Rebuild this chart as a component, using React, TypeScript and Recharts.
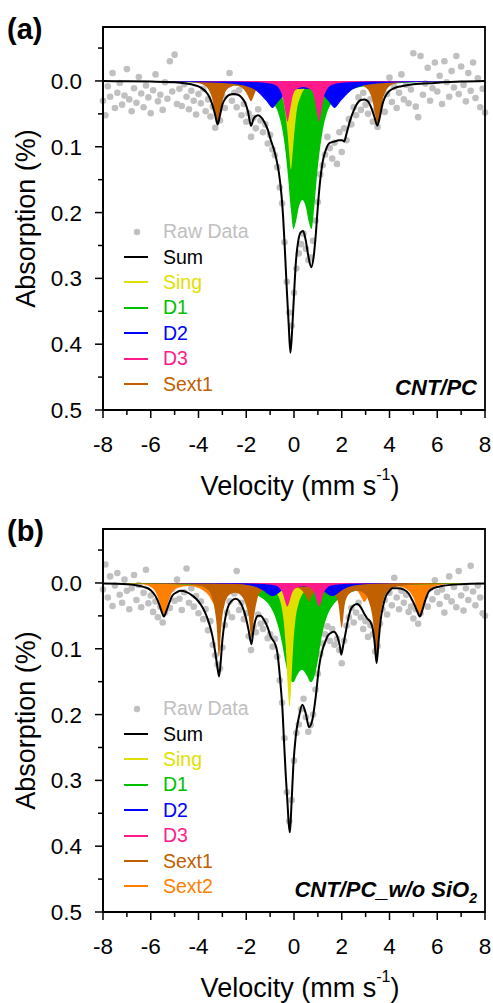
import React from "react";
import {
	ComposedChart,
	XAxis,
	YAxis,
	Area,
	Line,
	Scatter,
	ReferenceArea,
	Legend,
} from "recharts";

type Pair = [number, number];

// shared axes
const velocityTicks = [-8, -7, -6, -5, -4, -3, -2, -1, 0, 1, 2, 3, 4, 5, 6, 7, 8];
const absorptionTicks = [-0.05, 0, 0.05, 0.1, 0.15, 0.2, 0.25, 0.3, 0.35, 0.4, 0.45, 0.5];
const absorptionDomain = [-0.082, 0.5];

// raw spectra are sampled on a fixed channel grid, -8 .. 8 mm/s
const channelVelocity = Array.from({ length: 161 }, (_, i) => Math.round((-8 + i * 0.1) * 10) / 10);

// ---------- (a) CNT/PC ----------
const rawA = [
	0.03, 0.052, 0.008, 0.024, -0.012, 0.041, 0.018, 0.003, 0.036, 0.022,
	-0.018, 0.028, 0.046, 0.011, 0.033, -0.006, 0.019, 0.04, 0.007, 0.025,
	0.049, 0.014, -0.01, 0.031, 0.021, 0.044, 0.002, 0.027, -0.03, 0.016,
	-0.04, 0.035, 0.012, 0.038, 0.005, 0.024, 0.043, 0.015, 0.03, 0.051,
	0.02, 0.034, 0.012, 0.046, 0.028, 0.054, 0.039, 0.071, 0.048, 0.06,
	0.022, 0.041, 0.005, -0.012, 0.03, 0.018, 0.04, 0.014, 0.052, 0.035,
	0.062, 0.049, 0.085, 0.056, 0.072, 0.043, 0.06, 0.078, 0.066, 0.095,
	0.082, 0.104, 0.113, 0.131, 0.162, 0.186, 0.245, 0.305, 0.352, 0.372,
	0.322, 0.285, 0.262, 0.248, 0.232, 0.255, 0.272, 0.268, 0.243, 0.212,
	0.184, 0.142, 0.128, 0.112, 0.085, 0.102, 0.118, 0.094, 0.126, 0.078,
	0.108, 0.072, 0.09, 0.058, 0.066, 0.04, 0.052, 0.025, 0.044, 0.018,
	0.036, 0.05, 0.028, 0.062, 0.045, 0.07, 0.038, 0.012, 0.047, 0.02,
	-0.005, 0.032, 0.009, 0.041, 0.018, -0.01, 0.028, 0.006, 0.034, 0.013,
	-0.042, 0.039, 0.055, -0.038, 0.021, 0.004, -0.02, 0.03, 0.011, -0.028,
	0.016, -0.008, 0.035, -0.03, 0.002, 0.024, -0.015, 0.01, -0.038, 0.02,
	-0.022, 0.006, 0.031, -0.012, 0.015, -0.028, 0.026, -0.004, 0.04, 0.012,
	0.048,
];
const sumA: Pair[] = [
	[-8, 0], [-7, 0.0005], [-6, 0.001], [-5, 0.002], [-4.5, 0.004], [-4.2, 0.006],
	[-3.9, 0.01], [-3.7, 0.016], [-3.55, 0.024], [-3.42, 0.036], [-3.3, 0.052], [-3.2, 0.066],
	[-3.1, 0.052], [-3.0, 0.036], [-2.86, 0.026], [-2.7, 0.021], [-2.52, 0.02], [-2.35, 0.021],
	[-2.2, 0.025], [-2.05, 0.033], [-1.93, 0.046], [-1.8, 0.068], [-1.7, 0.058], [-1.62, 0.054],
	[-1.5, 0.052], [-1.38, 0.055], [-1.25, 0.062], [-1.1, 0.074], [-0.97, 0.09], [-0.85, 0.103],
	[-0.75, 0.117], [-0.63, 0.14], [-0.52, 0.175], [-0.45, 0.21], [-0.38, 0.258], [-0.3, 0.318],
	[-0.22, 0.372], [-0.15, 0.413], [-0.08, 0.38], [0.0, 0.325], [0.08, 0.275], [0.17, 0.245],
	[0.28, 0.23], [0.38, 0.228], [0.48, 0.24], [0.6, 0.266], [0.72, 0.283], [0.82, 0.268],
	[0.92, 0.23], [1.0, 0.19], [1.1, 0.15], [1.2, 0.123], [1.33, 0.105], [1.5, 0.094],
	[1.7, 0.092], [1.88, 0.09], [2.02, 0.09], [2.1, 0.092], [2.2, 0.08], [2.35, 0.06],
	[2.5, 0.045], [2.65, 0.034], [2.8, 0.029], [2.95, 0.028], [3.1, 0.031], [3.25, 0.042],
	[3.38, 0.056], [3.49, 0.068], [3.6, 0.054], [3.7, 0.036], [3.82, 0.024], [3.97, 0.016],
	[4.2, 0.011], [4.5, 0.008], [5, 0.005], [5.9, 0.003], [7, 0.001], [8, 0],
];
const singA: Pair[] = [
	[-8, 0], [-4, 0.0003], [-2.5, 0.0008], [-1.6, 0.0017], [-1.1, 0.004], [-0.83, 0.0077],
	[-0.63, 0.014], [-0.5, 0.024], [-0.38, 0.044], [-0.28, 0.076], [-0.2, 0.11], [-0.13, 0.135],
	[-0.06, 0.11], [0.02, 0.076], [0.12, 0.044], [0.25, 0.026], [0.4, 0.014], [0.6, 0.0077],
	[0.9, 0.004], [1.4, 0.0017], [2.3, 0.0008], [4, 0.0003], [8, 0],
];
const d1A: Pair[] = [
	[-8, 0], [-4.5, 0.002], [-3.5, 0.004], [-2.5, 0.007], [-1.8, 0.012], [-1.4, 0.018],
	[-1.1, 0.025], [-0.85, 0.034], [-0.65, 0.05], [-0.5, 0.072], [-0.38, 0.1], [-0.25, 0.145],
	[-0.13, 0.195], [-0.03, 0.225], [0.08, 0.214], [0.2, 0.192], [0.35, 0.181], [0.5, 0.192],
	[0.62, 0.214], [0.74, 0.225], [0.84, 0.195], [0.96, 0.145], [1.1, 0.1], [1.22, 0.072],
	[1.37, 0.05], [1.57, 0.034], [1.82, 0.025], [2.1, 0.018], [2.5, 0.012], [3.2, 0.007],
	[4.2, 0.004], [5.2, 0.002], [8, 0],
];
const d2A: Pair[] = [
	[-8, 0], [-5.5, 0.001], [-4, 0.002], [-3, 0.003], [-2.4, 0.005], [-1.9, 0.009],
	[-1.65, 0.013], [-1.4, 0.021], [-1.15, 0.031], [-0.9, 0.041], [-0.65, 0.031], [-0.4, 0.021],
	[-0.1, 0.014], [0.4, 0.012], [0.9, 0.014], [1.2, 0.021], [1.45, 0.031], [1.7, 0.041],
	[1.95, 0.031], [2.2, 0.021], [2.45, 0.013], [2.7, 0.009], [3.2, 0.005], [3.8, 0.003],
	[4.8, 0.002], [6.3, 0.001], [8, 0],
];
const d3A: Pair[] = [
	[-8, 0], [-4, 0.0003], [-2.5, 0.001], [-1.5, 0.002], [-1.07, 0.0035], [-0.77, 0.0065],
	[-0.62, 0.012], [-0.47, 0.025], [-0.37, 0.045], [-0.27, 0.062], [-0.17, 0.045], [-0.07, 0.025],
	[0.08, 0.013], [0.39, 0.009], [0.7, 0.013], [0.85, 0.025], [0.95, 0.045], [1.05, 0.062],
	[1.15, 0.045], [1.25, 0.025], [1.4, 0.012], [1.55, 0.0065], [1.85, 0.0035], [2.3, 0.002],
	[3.3, 0.001], [5, 0.0003], [8, 0],
];
const sext1A: Pair[] = [
	[-8, 0], [-5.5, 0.0006], [-4.6, 0.0012], [-4.0, 0.0035], [-3.75, 0.007], [-3.55, 0.015],
	[-3.4, 0.031], [-3.3, 0.052], [-3.2, 0.066], [-3.1, 0.052], [-3.0, 0.032], [-2.85, 0.015],
	[-2.65, 0.009], [-2.45, 0.007], [-2.25, 0.009], [-2.1, 0.013], [-2.0, 0.018], [-1.9, 0.025],
	[-1.8, 0.031], [-1.7, 0.024], [-1.6, 0.015], [-1.45, 0.008], [-1.25, 0.004], [-0.8, 0.002],
	[0.2, 0.0015], [1.1, 0.002], [1.55, 0.004], [1.73, 0.007], [1.88, 0.012], [1.98, 0.018],
	[2.08, 0.023], [2.18, 0.018], [2.3, 0.011], [2.55, 0.006], [2.85, 0.007], [3.0, 0.01],
	[3.15, 0.016], [3.3, 0.032], [3.4, 0.052], [3.5, 0.066], [3.6, 0.052], [3.7, 0.031],
	[3.85, 0.015], [4.05, 0.007], [4.3, 0.0035], [4.7, 0.0017], [5.5, 0.0008], [8, 0],
];

// ---------- (b) CNT/PC_w/o SiO2 ----------
const rawB = [
	0.01, -0.028, 0.022, -0.01, 0.035, 0.004, -0.015, 0.018, 0.03, -0.005,
	0.012, 0.04, 0.008, -0.012, 0.026, 0.003, 0.037, 0.015, -0.02, 0.031,
	0.019, 0.044, 0.028, 0.052, 0.036, 0.06, 0.045, 0.021, 0.038, 0.009,
	0.027, -0.005, 0.024, 0.041, 0.014, -0.022, 0.03, 0.008, 0.036, 0.02,
	0.046, 0.028, 0.055, 0.04, 0.072, 0.058, 0.094, 0.11, 0.124, 0.13,
	0.098, 0.064, 0.045, 0.028, 0.052, 0.016, -0.018, 0.041, 0.03, 0.055,
	0.046, 0.081, 0.102, 0.066, 0.075, 0.048, 0.062, 0.07, 0.058, 0.084,
	0.078, 0.097, 0.085, 0.112, 0.148, 0.182, 0.236, 0.318, 0.362, 0.33,
	0.27, 0.228, 0.215, 0.192, 0.176, 0.204, 0.226, 0.216, 0.2, 0.162,
	0.138, 0.108, 0.092, 0.078, 0.066, 0.088, 0.07, 0.094, 0.085, 0.102,
	0.122, 0.088, 0.065, 0.052, 0.038, 0.06, 0.045, 0.03, 0.052, 0.07,
	0.058, 0.082, 0.064, 0.078, 0.104, 0.096, 0.062, 0.04, 0.026, 0.048,
	0.015, 0.034, -0.008, 0.022, 0.04, 0.012, 0.03, 0.018, 0.044, 0.036,
	0.054, 0.04, 0.062, 0.046, 0.03, 0.02, 0.036, 0.008, 0.025, -0.004,
	0.014, 0.032, 0.01, 0.045, 0.021, -0.01, 0.028, 0.006, 0.037, -0.018,
	0.019, 0.042, 0.008, 0.026, -0.026, 0.013, 0.034, 0.004, 0.022, 0.046,
	0.05,
];
const sumB: Pair[] = [
	[-8, 0.001], [-7, 0.002], [-6.3, 0.006], [-6.0, 0.011], [-5.8, 0.02], [-5.65, 0.032],
	[-5.55, 0.043], [-5.45, 0.051], [-5.35, 0.043], [-5.22, 0.03], [-5.09, 0.019], [-4.9, 0.014],
	[-4.74, 0.012], [-4.5, 0.014], [-4.3, 0.018], [-4.1, 0.024], [-3.9, 0.033], [-3.72, 0.045],
	[-3.56, 0.061], [-3.42, 0.08], [-3.3, 0.105], [-3.2, 0.13], [-3.14, 0.142], [-3.07, 0.12],
	[-3.0, 0.087], [-2.9, 0.058], [-2.78, 0.038], [-2.63, 0.028], [-2.44, 0.024], [-2.28, 0.028],
	[-2.15, 0.037], [-2.02, 0.052], [-1.9, 0.072], [-1.78, 0.093], [-1.7, 0.072], [-1.62, 0.057],
	[-1.5, 0.05], [-1.4, 0.05], [-1.26, 0.056], [-1.1, 0.068], [-0.97, 0.082], [-0.8, 0.092],
	[-0.7, 0.105], [-0.63, 0.127], [-0.55, 0.16], [-0.49, 0.188], [-0.42, 0.239], [-0.35, 0.289],
	[-0.28, 0.33], [-0.21, 0.37], [-0.17, 0.379], [-0.11, 0.34], [-0.03, 0.279], [0.07, 0.234],
	[0.21, 0.203], [0.35, 0.185], [0.49, 0.198], [0.63, 0.219], [0.77, 0.208], [0.91, 0.173],
	[1.05, 0.127], [1.19, 0.102], [1.3, 0.09], [1.42, 0.08], [1.54, 0.076], [1.67, 0.074],
	[1.82, 0.082], [1.92, 0.096], [1.98, 0.109], [2.06, 0.095], [2.16, 0.076], [2.27, 0.055],
	[2.37, 0.041], [2.5, 0.034], [2.65, 0.032], [2.8, 0.037], [2.93, 0.046], [3.07, 0.054],
	[3.2, 0.059], [3.3, 0.07], [3.38, 0.092], [3.46, 0.122], [3.54, 0.09], [3.63, 0.056],
	[3.74, 0.034], [3.84, 0.021], [4.0, 0.012], [4.12, 0.008], [4.35, 0.008], [4.6, 0.01],
	[4.8, 0.016], [4.95, 0.026], [5.08, 0.036], [5.16, 0.043], [5.27, 0.051], [5.37, 0.042],
	[5.5, 0.026], [5.65, 0.013], [5.85, 0.008], [6.14, 0.005], [7, 0.002], [8, 0.001],
];
const singB: Pair[] = [
	[-8, 0], [-4, 0.0003], [-2.7, 0.0008], [-1.7, 0.0021], [-1.19, 0.0047], [-0.89, 0.0094],
	[-0.69, 0.0174], [-0.56, 0.03], [-0.44, 0.055], [-0.34, 0.1], [-0.26, 0.158], [-0.19, 0.188],
	[-0.12, 0.158], [-0.04, 0.1], [0.06, 0.056], [0.18, 0.033], [0.31, 0.02], [0.51, 0.0105],
	[0.81, 0.005], [1.3, 0.0022], [2.3, 0.0008], [4, 0.0003], [8, 0],
];
const d1B: Pair[] = [
	[-8, 0], [-5, 0.002], [-3.5, 0.005], [-2.5, 0.009], [-1.8, 0.015], [-1.35, 0.023],
	[-1.05, 0.033], [-0.85, 0.046], [-0.68, 0.064], [-0.5, 0.092], [-0.35, 0.122], [-0.18, 0.146],
	[-0.03, 0.151], [0.12, 0.141], [0.33, 0.132], [0.54, 0.141], [0.7, 0.151], [0.85, 0.143],
	[1.0, 0.118], [1.12, 0.09], [1.27, 0.064], [1.45, 0.045], [1.67, 0.032], [1.95, 0.022],
	[2.4, 0.014], [3.1, 0.008], [4.3, 0.004], [5.7, 0.002], [8, 0],
];
const d2B: Pair[] = [
	[-8, 0], [-5, 0.0004], [-3.4, 0.001], [-2.4, 0.0017], [-1.9, 0.0034], [-1.65, 0.0053],
	[-1.4, 0.009], [-1.25, 0.0125], [-1.1, 0.0167], [-0.9, 0.02], [-0.7, 0.0167], [-0.55, 0.0125],
	[-0.4, 0.009], [-0.15, 0.006], [0.35, 0.0055], [0.85, 0.006], [1.1, 0.009], [1.25, 0.0125],
	[1.4, 0.0167], [1.6, 0.02], [1.8, 0.0167], [1.95, 0.0125], [2.1, 0.009], [2.35, 0.0053],
	[2.6, 0.0034], [3.1, 0.0017], [4.1, 0.0006], [6, 0.0002], [8, 0],
];
const d3B: Pair[] = [
	[-8, 0], [-4, 0.0002], [-2.5, 0.0006], [-1.5, 0.0012], [-1.08, 0.0024], [-0.78, 0.004],
	[-0.63, 0.0069], [-0.48, 0.015], [-0.38, 0.027], [-0.28, 0.036], [-0.18, 0.027], [-0.08, 0.015],
	[0.07, 0.008], [0.385, 0.0045], [0.7, 0.008], [0.85, 0.015], [0.95, 0.027], [1.05, 0.036],
	[1.15, 0.027], [1.25, 0.015], [1.4, 0.0069], [1.55, 0.004], [1.85, 0.0024], [2.3, 0.0012],
	[3.3, 0.0006], [5, 0.0002], [8, 0],
];
const sext1B: Pair[] = [
	[-8, 0], [-5.5, 0.0012], [-4.5, 0.002], [-4.0, 0.004], [-3.7, 0.008], [-3.5, 0.016],
	[-3.35, 0.035], [-3.25, 0.06], [-3.14, 0.112], [-3.03, 0.06], [-2.9, 0.032], [-2.7, 0.018],
	[-2.45, 0.015], [-2.2, 0.02], [-2.02, 0.033], [-1.9, 0.05], [-1.78, 0.083], [-1.67, 0.05],
	[-1.54, 0.025], [-1.35, 0.012], [-1.05, 0.006], [-0.5, 0.005], [0.1, 0.007], [0.4, 0.014],
	[0.52, 0.021], [0.62, 0.029], [0.72, 0.021], [0.85, 0.013], [1.1, 0.008], [1.45, 0.009],
	[1.7, 0.016], [1.86, 0.032], [2.0, 0.068], [2.13, 0.032], [2.3, 0.017], [2.6, 0.012],
	[2.9, 0.015], [3.12, 0.027], [3.3, 0.055], [3.46, 0.114], [3.6, 0.055], [3.75, 0.026],
	[3.95, 0.012], [4.25, 0.006], [4.8, 0.003], [5.8, 0.0013], [8, 0],
];
const sext2B: Pair[] = [
	[-8, 0], [-7, 0.001], [-6.4, 0.002], [-6.0, 0.006], [-5.8, 0.014], [-5.65, 0.027],
	[-5.55, 0.041], [-5.45, 0.05], [-5.35, 0.041], [-5.25, 0.027], [-5.1, 0.014], [-4.9, 0.008],
	[-4.4, 0.0045], [-3.9, 0.009], [-3.7, 0.014], [-3.55, 0.02], [-3.45, 0.027], [-3.35, 0.031],
	[-3.25, 0.026], [-3.15, 0.017], [-3.0, 0.009], [-2.8, 0.005], [-2.4, 0.0025], [-1.5, 0.001],
	[0, 0.0008], [1.5, 0.0015], [2.0, 0.003], [2.4, 0.006], [2.6, 0.01], [2.75, 0.017],
	[2.85, 0.024], [2.95, 0.029], [3.05, 0.024], [3.15, 0.017], [3.3, 0.009], [3.5, 0.005],
	[4.0, 0.004], [4.5, 0.006], [4.7, 0.009], [4.9, 0.016], [5.05, 0.027], [5.15, 0.041],
	[5.25, 0.05], [5.35, 0.041], [5.45, 0.027], [5.6, 0.014], [5.8, 0.007], [6.15, 0.003],
	[7, 0.001], [8, 0],
];

const legendA = ["Raw Data", "Sum", "Sing", "D1", "D2", "D3", "Sext1"];
const legendB = ["Raw Data", "Sum", "Sing", "D1", "D2", "D3", "Sext1", "Sext2"];

const COLORS: Record<string, string> = {
	"Raw Data": "#c0c0c0",
	Sum: "#000000",
	Sing: "#e0e000",
	D1: "#00c000",
	D2: "#0000ff",
	D3: "#ff1a8c",
	Sext1: "#c06000",
	Sext2: "#ff8000",
};

const FONT = '"Liberation Sans", Arial, Helvetica, sans-serif';
const TICK_LEN = 8;
const MINOR_LEN = 5;
const X_GAP = 19;
const Y_GAP = 13;
const TICK_FONT = 22.5;

const toPoints = (pairs: Pair[]) => pairs.map(([v, a]) => ({ v, a }));

function VelocityTick(props: any) {
	const { x, y, payload } = props;
	const v = payload.value;
	const major = v % 2 === 0;
	const axisY = y - TICK_LEN - X_GAP;
	return (
		<g>
			<line x1={x} x2={x} y1={axisY} y2={axisY + (major ? TICK_LEN : MINOR_LEN)} stroke="#000" strokeWidth={1.5} />
			{major && (
				<text x={x} y={y} dy="0.68em" textAnchor="middle" fontSize={TICK_FONT} fontFamily={FONT} fill="#000">
					{v}
				</text>
			)}
		</g>
	);
}

function AbsorptionTick(props: any) {
	const { x, y, payload } = props;
	const v = payload.value;
	const major = Math.abs(v * 10 - Math.round(v * 10)) < 1e-6;
	const axisX = x + TICK_LEN + Y_GAP;
	return (
		<g>
			<line x1={axisX - (major ? TICK_LEN : MINOR_LEN)} x2={axisX} y1={y} y2={y} stroke="#000" strokeWidth={1.5} />
			{major && (
				<text x={x} y={y} dy="0.355em" textAnchor="end" fontSize={TICK_FONT} fontFamily={FONT} fill="#000">
					{v.toFixed(1)}
				</text>
			)}
		</g>
	);
}

function VelocityTitle(props: any) {
	const vb = props.viewBox;
	const cx = vb.x + vb.width / 2 + 6;
	const y = vb.y + 85;
	return (
		<text x={cx} y={y} textAnchor="middle" fontSize={27} fontFamily={FONT} fill="#000">
			Velocity (mm s
			<tspan fontSize={16} dy={-15}>-1</tspan>
			<tspan dy={15}>)</tspan>
		</text>
	);
}

function AbsorptionTitle(props: any) {
	const vb = props.viewBox;
	const x = vb.x + 35;
	const y = vb.y + vb.height / 2;
	return (
		<g>
			<text x={x} y={y} transform={`rotate(-90, ${x}, ${y})`} textAnchor="middle" fontSize={27} fontFamily={FONT} fill="#000">
				Absorption (%)
			</text>
			<text x={vb.x + 7} y={vb.y + 12} fontSize={29} fontWeight="bold" fontFamily={FONT} fill="#000">
				{props.tag}
			</text>
		</g>
	);
}

function SampleTag(props: any) {
	const vb = props.viewBox;
	return (
		<text
			x={vb.x + vb.width - 8}
			y={vb.y + vb.height - 15}
			textAnchor="end"
			fontSize={22}
			fontWeight="bold"
			fontStyle="italic"
			fontFamily={FONT}
			fill="#000"
		>
			{props.text}
			{props.sub && (
				<tspan fontSize={14} dy={6}>
					{props.sub}
				</tspan>
			)}
		</text>
	);
}

function LegendBox({ names }: { names: string[] }) {
	return (
		<div style={{ fontFamily: FONT, fontSize: 19.5 }}>
			{names.map((n) => (
				<div key={n} style={{ height: 25.4, display: "flex", alignItems: "center" }}>
					<svg width={43} height={10} style={{ flex: "none" }}>
						{n === "Raw Data" ? (
							<circle cx={17} cy={5} r={3.2} fill={COLORS[n]} />
						) : (
							<line x1={4} x2={28} y1={5} y2={5} stroke={COLORS[n]} strokeWidth={2} />
						)}
					</svg>
					<span style={{ color: COLORS[n], whiteSpace: "nowrap" }}>{n}</span>
				</div>
			))}
		</div>
	);
}

interface Component {
	name: string;
	data: Pair[];
}

interface PanelProps {
	tag: string;
	sample: string;
	sampleSub?: string;
	raw: number[];
	sum: Pair[];
	components: Component[];
	legend: string[];
	legendTop: number;
	height: number;
}

function Panel({ tag, sample, sampleSub, raw, sum, components, legend, legendTop, height }: PanelProps) {
	const rawPoints = raw.map((a, i) => ({ v: channelVelocity[i], a }));
	return (
		<ComposedChart width={493} height={height} margin={{ top: 27, right: 8, bottom: 0, left: 0 }}>
			<XAxis
				type="number"
				dataKey="v"
				domain={[-8, 8]}
				ticks={velocityTicks}
				interval={0}
				tickSize={TICK_LEN}
				tickMargin={X_GAP}
				tickLine={false}
				tick={<VelocityTick />}
				height={height - 410}
				axisLine={{ stroke: "#000", strokeWidth: 1.8 }}
				label={<VelocityTitle />}
			/>
			<YAxis
				type="number"
				dataKey="a"
				domain={absorptionDomain}
				reversed
				allowDataOverflow
				ticks={absorptionTicks}
				interval={0}
				tickSize={TICK_LEN}
				tickMargin={Y_GAP}
				tickLine={false}
				tick={<AbsorptionTick />}
				width={103}
				axisLine={{ stroke: "#000", strokeWidth: 1.8 }}
				label={<AbsorptionTitle tag={tag} />}
			/>
			<Scatter
				data={rawPoints}
				dataKey="a"
				zIndex={50}
				isAnimationActive={false}
				shape={(p: any) => <circle cx={p.cx} cy={p.cy} r={3.3} fill={COLORS["Raw Data"]} />}
			/>
			{components.map((c) => (
				<Area
					key={c.name}
					data={toPoints(c.data)}
					dataKey="a"
					type="monotone"
					baseValue={0}
					fill={COLORS[c.name]}
					fillOpacity={1}
					stroke="none"
					dot={false}
					activeDot={false}
					isAnimationActive={false}
				/>
			))}
			<Line
				data={toPoints(sum)}
				dataKey="a"
				type="monotone"
				stroke="#000"
				strokeWidth={2}
				dot={false}
				activeDot={false}
				isAnimationActive={false}
			/>
			<ReferenceArea
				x1={-8}
				x2={8}
				y1={absorptionDomain[0]}
				y2={absorptionDomain[1]}
				fill="none"
				stroke="#000"
				strokeWidth={1.8}
				label={<SampleTag text={sample} sub={sampleSub} />}
			/>
			<Legend
				layout="vertical"
				align="center"
				verticalAlign="middle"
				wrapperStyle={{ left: 120, top: legendTop, width: 160 }}
				content={() => <LegendBox names={legend} />}
			/>
		</ComposedChart>
	);
}

export default function App() {
	return (
		<div style={{ position: "absolute", left: 0, top: 0, width: 493, height: 1003, background: "#fff", fontFamily: FONT, overflow: "hidden" }}>
			<div style={{ position: "absolute", left: 0, top: 0 }}>
				<Panel
					tag="(a)"
					sample="CNT/PC"
					raw={rawA}
					sum={sumA}
					components={[
						{ name: "D1", data: d1A },
						{ name: "Sing", data: singA },
						{ name: "Sext1", data: sext1A },
						{ name: "D2", data: d2A },
						{ name: "D3", data: d3A },
					]}
					legend={legendA}
					legendTop={219}
					height={502}
				/>
			</div>
			<div style={{ position: "absolute", left: 0, top: 502 }}>
				<Panel
					tag="(b)"
					sample="CNT/PC_w/o SiO"
					sampleSub="2"
					raw={rawB}
					sum={sumB}
					components={[
						{ name: "Sext2", data: sext2B },
						{ name: "D1", data: d1B },
						{ name: "Sing", data: singB },
						{ name: "Sext1", data: sext1B },
						{ name: "D2", data: d2B },
						{ name: "D3", data: d3B },
					]}
					legend={legendB}
					legendTop={194}
					height={501}
				/>
			</div>
		</div>
	);
}
